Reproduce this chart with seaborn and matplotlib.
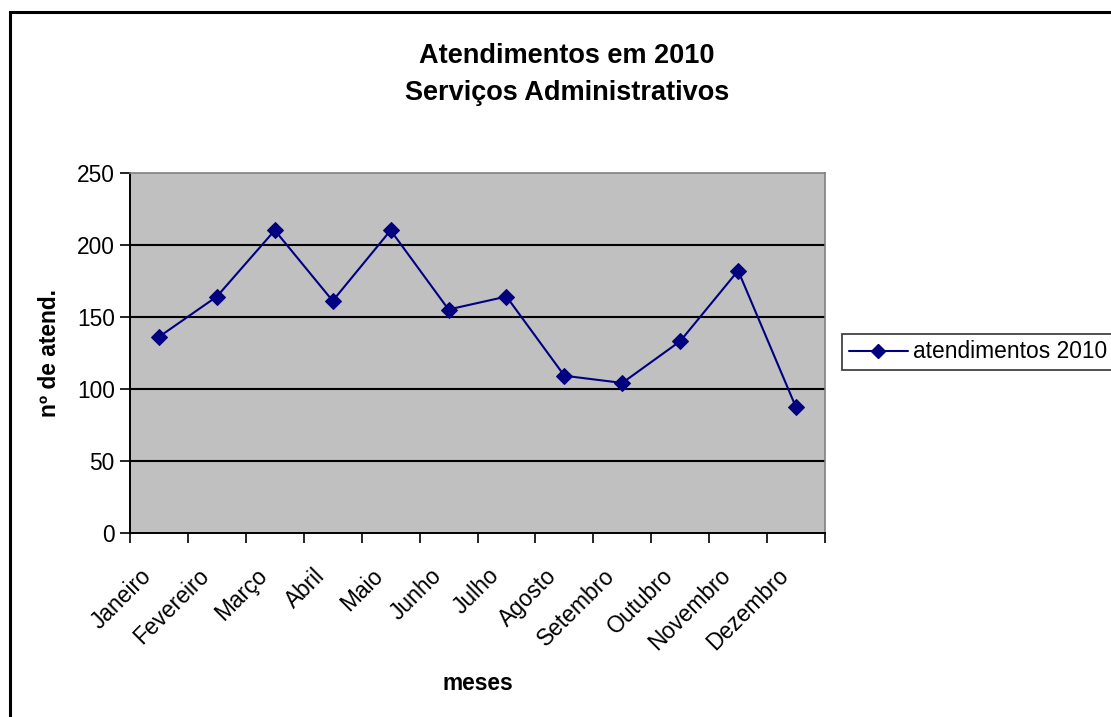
import numpy as np
import pandas as pd
import matplotlib
matplotlib.use("Agg")
import matplotlib.pyplot as plt
import matplotlib.patches as mpatches
import matplotlib.transforms as mtransforms
from matplotlib.lines import Line2D
import seaborn as sns

months = ["Janeiro", "Fevereiro", "Março", "Abril", "Maio", "Junho", "Julho",
          "Agosto", "Setembro", "Outubro", "Novembro", "Dezembro"]
values = [136, 164, 210, 161, 210, 155, 164, 109, 104, 133, 182, 87]
y_ticks = [0, 50, 100, 150, 200, 250]
series_name = "atendimentos 2010"
title_lines = ["Atendimentos em 2010", "Serviços Administrativos"]
x_label = "meses"
y_label = "nº de atend."

sns.set_theme(style="white")
plt.rcParams['font.family'] = ['Liberation Sans', 'DejaVu Sans']
plt.rcParams['text.color'] = 'black'
plt.rcParams['axes.labelcolor'] = 'black'
plt.rcParams['xtick.color'] = 'black'
plt.rcParams['ytick.color'] = 'black'

FS = 16.4

df = pd.DataFrame({"pos": np.arange(len(months)), "mes": months, "valor": values})

fig = plt.figure(figsize=(11.11, 7.17), dpi=100)
fig.patch.set_facecolor("white")
ax = fig.add_axes([130/1111, 1-532.7/717, (825-130)/1111, (532.7-172.7)/717])
ax.set_facecolor("#C0C0C0")

for yv in y_ticks[1:-1]:
    ax.axhline(yv, color="black", lw=1.5, zorder=1)

sns.lineplot(data=df, x="pos", y="valor", ax=ax, color="#000080", lw=1.5,
             marker="D", markersize=8.5, markeredgecolor="#000080", zorder=3,
             legend=False)

ax.set_xlim(-0.5, len(months) - 0.5)
ax.set_ylim(0, 250)
ax.set_yticks(y_ticks)
ax.set_yticklabels([str(v) for v in y_ticks], fontsize=FS)
ax.set_xticks(np.arange(len(months)))
ax.set_xticklabels(months, rotation=45, ha="right", rotation_mode="anchor", fontsize=FS)
ax.set_xticks(np.arange(len(months) + 1) - 0.5, minor=True)
ax.tick_params(axis="x", which="major", length=0, pad=19)
ax.tick_params(axis="x", which="minor", length=7, width=1.2, color="black", direction="out", bottom=True)
ax.tick_params(axis="y", which="major", length=7, width=1.2, color="black", direction="out", left=True, pad=4)

shift = mtransforms.ScaledTranslation(-19/100, -5/100, fig.dpi_scale_trans)
for lbl in ax.get_xticklabels():
    lbl.set_transform(lbl.get_transform() + shift)

for side in ["top", "right"]:
    ax.spines[side].set_color("#808080")
    ax.spines[side].set_linewidth(1.2)
for side in ["left", "bottom"]:
    ax.spines[side].set_color("black")
    ax.spines[side].set_linewidth(1.4)

ax.set_xlabel(x_label, fontsize=FS, fontweight="bold", va="center")
ax.xaxis.set_label_coords((478-130)/695, (532.7-683)/360)
ax.set_ylabel(y_label, fontsize=FS, fontweight="bold", va="center")
ax.yaxis.set_label_coords((50-130)/695, (532.7-353)/360)

fig.text(567/1111, 1-63/717, title_lines[0], ha="center", va="baseline",
         fontsize=19.5, fontweight="bold")
fig.text(567/1111, 1-100/717, title_lines[1], ha="center", va="baseline",
         fontsize=19.5, fontweight="bold")

handle = Line2D([], [], color="#000080", lw=1.5, marker="D", markersize=7.5)
leg = fig.legend([handle], [series_name], loc="center left",
                 bbox_to_anchor=(842/1111, 1-352/717), fontsize=FS,
                 frameon=True, fancybox=False, handlelength=2.6,
                 borderpad=0.3, handletextpad=0.2, borderaxespad=0)
leg.get_frame().set_edgecolor("black")
leg.get_frame().set_linewidth(1.2)

border = mpatches.Rectangle((9.5/1111, -0.1), 1.2, 1.1 - 12/717, transform=fig.transFigure,
                            fill=False, edgecolor="black", lw=2.2, clip_on=False)
fig.patches.append(border)

fig.savefig("out.png", dpi=100)
